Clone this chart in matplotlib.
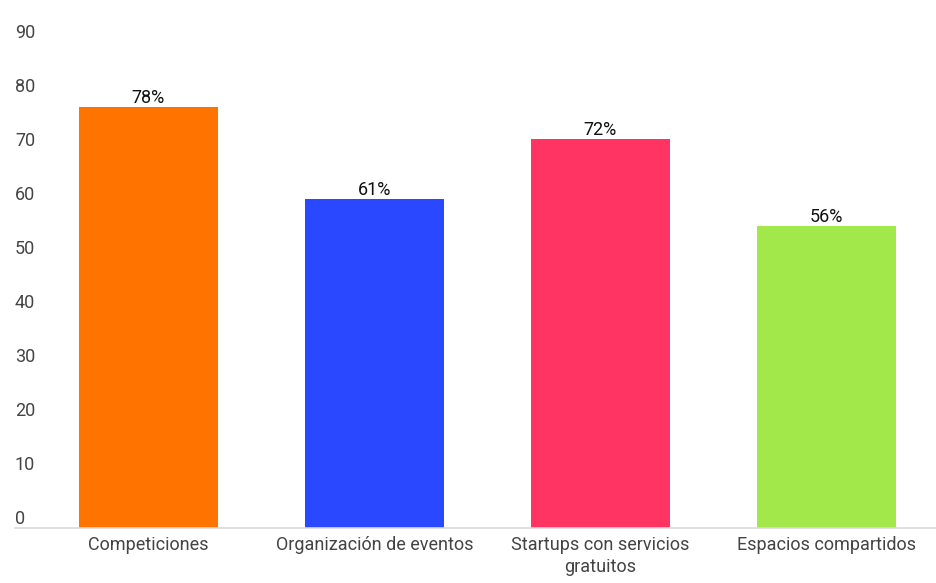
import matplotlib
matplotlib.use("Agg")
import matplotlib.pyplot as plt
import matplotlib.transforms as mtransforms

# data
categorias = ["Competiciones", "Organización de eventos",
              "Startups con servicios\ngratuitos", "Espacios compartidos"]
valores = [78, 61, 72, 56]
etiquetas = ["78%", "61%", "72%", "56%"]
colores = ["#FF7300", "#2A48FF", "#FF3463", "#A3E84A"]
y_ticks = [0, 10, 20, 30, 40, 50, 60, 70, 80, 90]

plt.rcParams["font.family"] = ["Roboto", "DejaVu Sans"]
FS = 13

fig = plt.figure(figsize=(9.36, 5.83), dpi=100)
ax = fig.add_axes([15 / 936, 55 / 583, 1 - 15 / 936, 528 / 583])

x = list(range(len(categorias)))
bars = ax.bar(x, valores, width=0.615, color=colores)

for b, lab in zip(bars, etiquetas):
    ax.annotate(lab, (b.get_x() + b.get_width() / 2, b.get_height()),
                xytext=(0, 0), textcoords="offset points",
                ha="center", va="bottom", fontsize=FS, color="#111111")

ax.set_xlim(-0.59, 3.485)
ax.set_ylim(0, 97.8)

ax.set_xticks(x)
ax.set_xticklabels(categorias, fontsize=FS, color="#444444", linespacing=1.25)
ax.tick_params(axis="x", length=0, pad=6)
ax.set_yticks([])

# y labels sit just above their value, left aligned
trans = mtransforms.blended_transform_factory(ax.transAxes, ax.transData)
for t in y_ticks:
    ax.annotate(str(t), (0, t), xycoords=trans, xytext=(0, 0),
                textcoords="offset points", ha="left", va="bottom",
                fontsize=FS, color="#444444")

for s in ["top", "right", "left"]:
    ax.spines[s].set_visible(False)
ax.spines["bottom"].set_color("#D9D9D9")
ax.spines["bottom"].set_linewidth(1.2)

fig.savefig("out.png", dpi=100)
